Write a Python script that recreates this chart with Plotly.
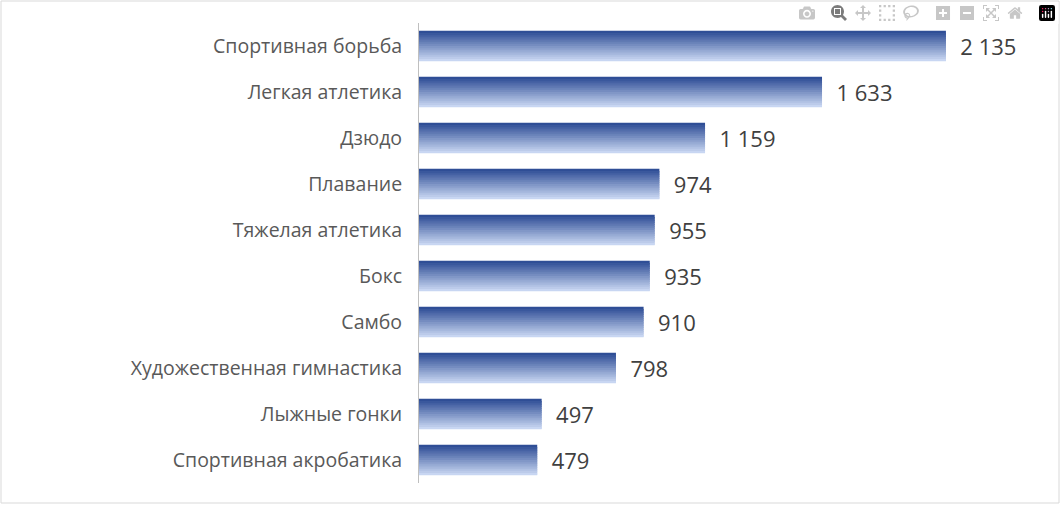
import plotly.graph_objects as go

categories = ["Спортивная борьба","Легкая атлетика","Дзюдо","Плавание","Тяжелая атлетика",
              "Бокс","Самбо","Художественная гимнастика","Лыжные гонки","Спортивная акробатика"]
values = [2135,1633,1159,974,955,935,910,798,497,479]
labels = ["  " + f"{v:,}".replace(",", " ") for v in values]

W, H = 1061, 505
L, R, T, B = 419, 25, 23, 22
fig = go.Figure()
n = 14
bw = 0.66
top = (47, 78, 150)
bot = (200, 214, 242)
step = bw / n
for i in range(n):
    f = i / (n - 1)
    c = tuple(int(top[k] + (bot[k] - top[k]) * f) for k in range(3))
    wdt = step * 1.8 if i < n - 1 else step
    fig.add_trace(go.Bar(y=categories, x=values, orientation="h",
                         width=wdt, offset=-bw / 2 + i * step,
                         marker=dict(color=f"rgb{c}", line=dict(width=0)),
                         hoverinfo="skip", showlegend=False))
fig.add_trace(go.Bar(y=categories, x=values, orientation="h", width=bw,
                     marker=dict(color="rgba(0,0,0,0)", line=dict(width=0)),
                     text=labels, textposition="outside", cliponaxis=False,
                     textfont=dict(size=22, color="#404040", family="Open Sans"),
                     showlegend=False))
pw, ph = W - L - R, H - T - B
fig.add_shape(type="rect", xref="paper", yref="paper",
              x0=-(L - 1) / pw, x1=1 + (R - 2) / pw, y0=-(B - 2) / ph, y1=1 + (T - 1) / ph,
              line=dict(color="#d9d9d9", width=1))
fig.update_layout(width=W, height=H, margin=dict(l=L, r=R, t=T, b=B),
                  barmode="overlay", plot_bgcolor="white", paper_bgcolor="white",
                  xaxis=dict(range=[0, 2500], visible=False),
                  yaxis=dict(autorange="reversed", showline=True, linecolor="#bfbfbf",
                             ticks="", ticklabelstandoff=12, showgrid=False,
                             tickfont=dict(size=19.5, color="#595959", family="Open Sans")))
fig.write_html("out.html", post_script="document.body.style.margin='0';document.body.style.overflow='hidden';")
